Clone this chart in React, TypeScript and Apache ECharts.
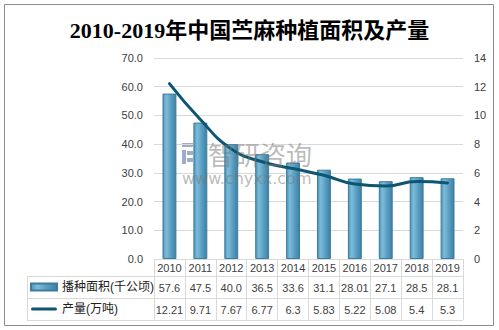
import React, { useEffect, useRef } from "react";
import * as echarts from "echarts";

const years = ["2010", "2011", "2012", "2013", "2014", "2015", "2016", "2017", "2018", "2019"];
const areaValues = [57.6, 47.5, 40.0, 36.5, 33.6, 31.1, 28.01, 27.1, 28.5, 28.1];
const outputValues = [12.21, 9.71, 7.67, 6.77, 6.3, 5.83, 5.22, 5.08, 5.4, 5.3];
const leftTicks = { min: 0, max: 70, interval: 10 };
const rightTicks = { min: 0, max: 14, interval: 2 };
const areaName = "播种面积(千公顷)";
const outputName = "产量(万吨)";
const titleText = "2010-2019年中国苎麻种植面积及产量";

const fmtArea = (v: number) => (Number.isInteger(v) ? v.toFixed(1) : String(v));

export default function App() {
  const ref = useRef<HTMLDivElement>(null);
  useEffect(() => {
    if (!ref.current) return;
    const chart = echarts.init(ref.current, null, { renderer: "svg" });
    const gridColor = "#d9d9d9";
    const textColor = "#404040";
    const font = "'Liberation Sans', 'Noto Sans CJK SC', sans-serif";
    const tableLeft = 27;
    const tableRight = 463;
    chart.setOption({
      animation: false,
      backgroundColor: "#ffffff",
      title: {
        text: titleText,
        left: "center",
        top: 14,
        textStyle: {
          fontFamily: "'Liberation Serif', 'Noto Sans CJK SC', serif",
          fontSize: 22,
          fontWeight: "bold",
          color: "#000000",
        },
      },
      legend: {
        orient: "vertical",
        left: 30,
        top: 280,
        padding: 0,
        itemGap: 8,
        itemWidth: 26,
        itemHeight: 7,
        symbolKeepAspect: true,
        textStyle: { fontSize: 12, color: "#202020", fontFamily: font, lineHeight: 14 },
        data: [
          { name: areaName, icon: "rect" },
          {
            name: outputName,
            icon: "path://M1.5,0 H24.5 A1.5,1.5 0 0 1 24.5,3 H1.5 A1.5,1.5 0 0 1 1.5,0 Z",
          },
        ],
      },
      grid: { left: 154, right: 36, top: 58, bottom: 71 },
      xAxis: {
        type: "category",
        data: years,
        axisLine: { show: true, lineStyle: { color: gridColor } },
        axisTick: { show: true, length: 61, interval: 0, lineStyle: { color: gridColor } },
        axisLabel: {
          interval: 0,
          margin: 0,
          fontFamily: font,
          color: textColor,
          formatter: (value: string, idx: number) =>
            `{y|${value}}\n{a|${fmtArea(areaValues[idx])}}\n{p|${outputValues[idx]}}`,
          rich: {
            y: { fontSize: 11, lineHeight: 18, color: textColor, fontFamily: font },
            a: { fontSize: 11, lineHeight: 22, color: textColor, fontFamily: font },
            p: { fontSize: 11, lineHeight: 22, color: textColor, fontFamily: font },
          },
        },
      },
      yAxis: [
        {
          type: "value",
          ...leftTicks,
          axisLine: { show: false },
          axisTick: { show: false },
          splitLine: { lineStyle: { color: gridColor } },
          axisLabel: {
            margin: 11,
            fontSize: 11,
            color: textColor,
            fontFamily: font,
            formatter: (v: number) => v.toFixed(1),
          },
        },
        {
          type: "value",
          ...rightTicks,
          axisLine: { show: false },
          axisTick: { show: false },
          splitLine: { show: false },
          axisLabel: { margin: 11, fontSize: 11, color: textColor, fontFamily: font },
        },
      ],
      series: [
        {
          name: areaName,
          type: "bar",
          data: areaValues,
          barWidth: "45%",
          yAxisIndex: 0,
          itemStyle: {
            color: new echarts.graphic.LinearGradient(0, 0, 1, 0, [
              { offset: 0, color: "#4f95b8" },
              { offset: 0.25, color: "#7cbcda" },
              { offset: 0.6, color: "#5a9fc3" },
              { offset: 1, color: "#3f80a2" },
            ]),
            borderColor: "#3d7c9c",
            borderWidth: 1,
          },
        },
        {
          name: outputName,
          type: "line",
          data: outputValues,
          yAxisIndex: 1,
          smooth: true,
          symbol: "none",
          lineStyle: { color: "#0d5570", width: 3, cap: "round" },
          itemStyle: { color: "#0d5570" },
          z: 5,
        },
      ],
      graphic: [
        {
          type: "rect",
          shape: { x: 4.5, y: 4.5, width: 489, height: 321 },
          style: { fill: "none", stroke: "#8c8c8c", lineWidth: 1 },
          silent: true,
        },
        {
          type: "line",
          shape: { x1: tableLeft, y1: 276.5, x2: tableRight, y2: 276.5 },
          style: { stroke: gridColor, lineWidth: 1 },
        },
        {
          type: "line",
          shape: { x1: tableLeft, y1: 298.5, x2: tableRight, y2: 298.5 },
          style: { stroke: gridColor, lineWidth: 1 },
        },
        {
          type: "line",
          shape: { x1: tableLeft, y1: 320.5, x2: tableRight, y2: 320.5 },
          style: { stroke: gridColor, lineWidth: 1 },
        },
        {
          type: "line",
          shape: { x1: tableLeft + 0.5, y1: 276.5, x2: tableLeft + 0.5, y2: 320.5 },
          style: { stroke: gridColor, lineWidth: 1 },
        },
        {
          type: "group",
          left: 182,
          top: 143,
          z: 100,
          silent: true,
          children: [
            { type: "rect", shape: { x: 0, y: 0, width: 11, height: 4 }, style: { fill: "rgba(40,70,140,0.45)" } },
            { type: "rect", shape: { x: 0, y: 7, width: 4, height: 14 }, style: { fill: "rgba(40,70,140,0.45)" } },
            { type: "rect", shape: { x: 5, y: 8, width: 6, height: 4 }, style: { fill: "rgba(40,70,140,0.45)" } },
            { type: "rect", shape: { x: 5, y: 15, width: 6, height: 4 }, style: { fill: "rgba(40,70,140,0.45)" } },
            { type: "rect", shape: { x: 12, y: 0, width: 10, height: 21 }, style: { fill: "rgba(90,150,210,0.45)" } },
            { type: "rect", shape: { x: 14, y: 3, width: 6, height: 9 }, style: { fill: "rgba(255,255,255,0.6)" } },
          ],
        },
        {
          type: "text",
          left: 208,
          top: 140,
          z: 100,
          silent: true,
          style: {
            text: "智研咨询",
            fontSize: 26,
            fontFamily: "'Noto Sans CJK SC', sans-serif",
            fill: "rgba(120,120,120,0.5)",
          },
        },
        {
          type: "text",
          left: 182,
          top: 170,
          z: 100,
          silent: true,
          style: {
            text: "www.chyxx.com",
            fontSize: 16,
            fontFamily: "'DejaVu Sans', sans-serif",
            fill: "rgba(120,120,120,0.5)",
          },
        },
      ],
    });
    return () => chart.dispose();
  }, []);
  return (
    <div
      ref={ref}
      style={{ position: "fixed", left: 0, top: 0, width: 499, height: 330, background: "#fff" }}
    />
  );
}
